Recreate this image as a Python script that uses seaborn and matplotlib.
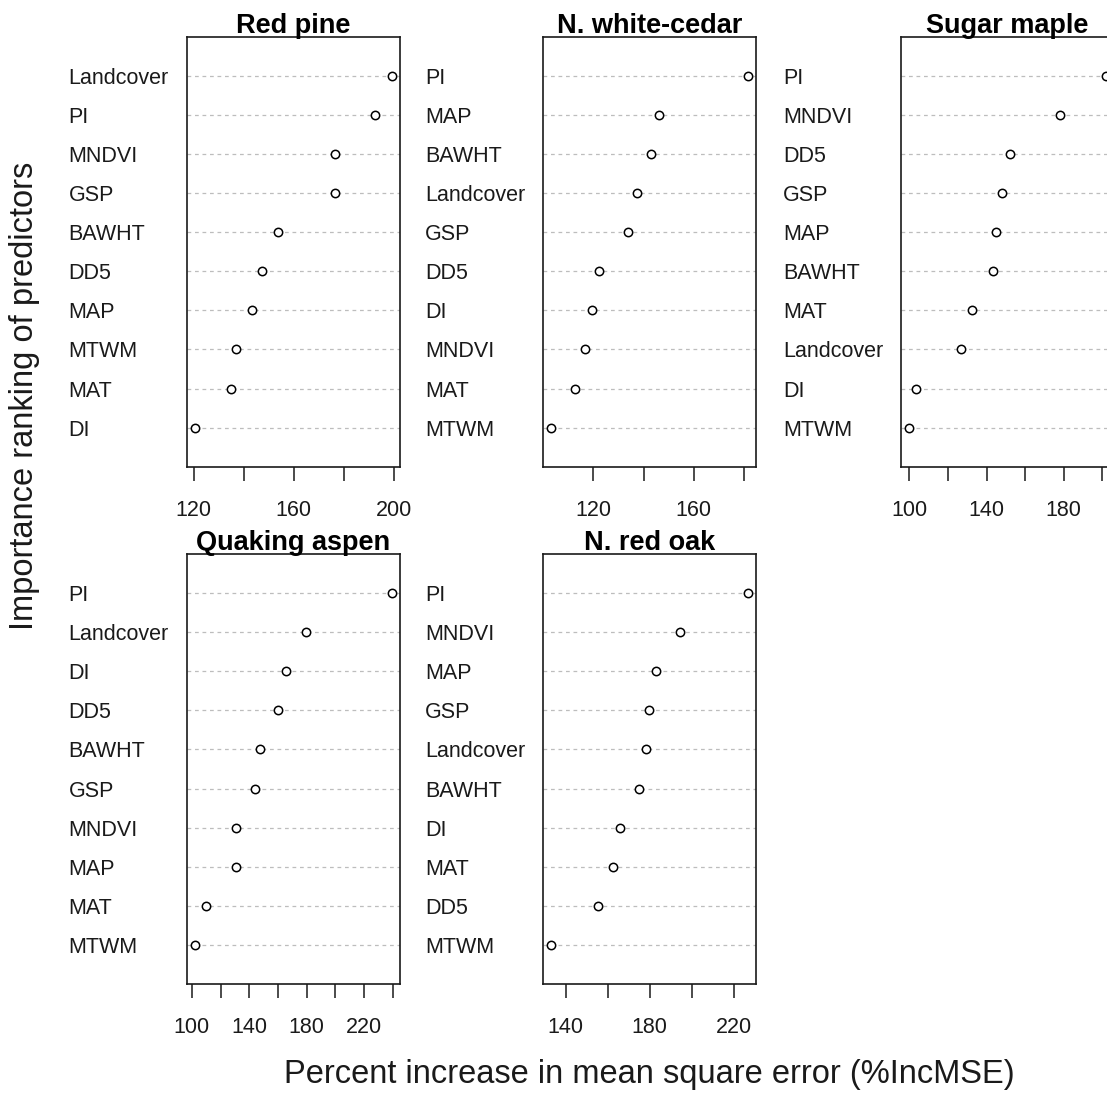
import matplotlib
matplotlib.use("Agg")
import matplotlib.pyplot as plt
import seaborn as sns
import pandas as pd

# Variable importance (%IncMSE) per species, predictors listed from highest to lowest
species = ["Red pine", "N. white-cedar", "Sugar maple", "Quaking aspen", "N. red oak"]

red_pine_vars = ["Landcover", "PI", "MNDVI", "GSP", "BAWHT", "DD5", "MAP", "MTWM", "MAT", "DI"]
red_pine_vals = [199.3, 192.4, 176.5, 176.5, 153.6, 147.3, 143.2, 137.0, 134.9, 120.4]

cedar_vars = ["PI", "MAP", "BAWHT", "Landcover", "GSP", "DD5", "DI", "MNDVI", "MAT", "MTWM"]
cedar_vals = [181.7, 146.3, 143.0, 137.3, 133.9, 122.4, 119.5, 116.9, 112.7, 103.3]

maple_vars = ["PI", "MNDVI", "DD5", "GSP", "MAP", "BAWHT", "MAT", "Landcover", "DI", "MTWM"]
maple_vals = [201.9, 177.8, 152.4, 147.8, 145.0, 143.5, 132.4, 126.8, 103.5, 99.8]

aspen_vars = ["PI", "Landcover", "DI", "DD5", "BAWHT", "GSP", "MNDVI", "MAP", "MAT", "MTWM"]
aspen_vals = [239.3, 179.2, 165.9, 159.9, 147.6, 144.1, 130.6, 130.6, 110.0, 101.9]

oak_vars = ["PI", "MNDVI", "MAP", "GSP", "Landcover", "BAWHT", "DI", "MAT", "DD5", "MTWM"]
oak_vals = [226.9, 194.4, 183.0, 179.7, 178.1, 174.7, 165.7, 162.4, 155.4, 133.2]

# x-axis ticks and the labels printed under them
red_pine_ticks = [120, 140, 160, 180, 200]
red_pine_ticklabels = ["120", "", "160", "", "200"]
cedar_ticks = [120, 140, 160, 180]
cedar_ticklabels = ["120", "", "160", ""]
maple_ticks = [100, 120, 140, 160, 180, 200]
maple_ticklabels = ["100", "", "140", "", "180", ""]
aspen_ticks = [100, 120, 140, 160, 180, 200, 220, 240]
aspen_ticklabels = ["100", "", "140", "", "180", "", "220", ""]
oak_ticks = [140, 160, 180, 200, 220]
oak_ticklabels = ["140", "", "180", "", "220"]

panels = [
    (species[0], red_pine_vars, red_pine_vals, red_pine_ticks, red_pine_ticklabels),
    (species[1], cedar_vars, cedar_vals, cedar_ticks, cedar_ticklabels),
    (species[2], maple_vars, maple_vals, maple_ticks, maple_ticklabels),
    (species[3], aspen_vars, aspen_vals, aspen_ticks, aspen_ticklabels),
    (species[4], oak_vars, oak_vals, oak_ticks, oak_ticklabels),
]

sns.set_style("white")
plt.rcParams["font.family"] = ["Liberation Sans", "DejaVu Sans"]

W, H = 1107, 1093
fig = plt.figure(figsize=(W / 100, H / 100), dpi=100)

# panel boxes in pixels: (left, top, width, height)
col_left = [186.7, 543.3, 901.0]
row_top = [36.7, 554.0]
box_w, box_h = 213.0, 430.0
slots = [(0, 0), (0, 1), (0, 2), (1, 0), (1, 1)]

dark = "#1a1a1a"
for (title, names, vals, ticks, ticklabels), (r, c) in zip(panels, slots):
    left, top = col_left[c], row_top[r]
    ax = fig.add_axes([left / W, 1 - (top + box_h) / H, box_w / W, box_h / H])
    n = len(names)
    df = pd.DataFrame({"var": names, "val": vals, "pos": list(range(n, 0, -1))})

    sns.scatterplot(data=df, x="val", y="pos", ax=ax, marker="o", s=36,
                    facecolor="white", edgecolor="black", linewidth=1.1, zorder=3)

    lo, hi = min(vals), max(vals)
    pad = 0.04 * (hi - lo)
    ax.set_xlim(lo - pad, hi + pad)
    ax.set_ylim(0, n + 1)

    ax.set_yticks(df["pos"])
    ax.set_yticklabels(df["var"])
    ax.yaxis.grid(True, color="#bdbdbd", linestyle=(0, (3.0, 3.0)), linewidth=0.9)
    ax.xaxis.grid(False)
    ax.set_axisbelow(True)
    ax.tick_params(axis="y", length=0, pad=85, labelsize=15.5, labelcolor=dark)
    for lbl in ax.get_yticklabels():
        lbl.set_horizontalalignment("left")

    ax.set_xticks(ticks)
    ax.set_xticklabels(ticklabels)
    ax.tick_params(axis="x", direction="out", length=10, width=1.1, color=dark,
                   pad=14, labelsize=15.5, labelcolor=dark, bottom=True)

    for sp in ax.spines.values():
        sp.set_visible(True)
        sp.set_color(dark)
        sp.set_linewidth(1.2)

    ax.set_xlabel("")
    ax.set_ylabel("")
    ax.set_title(title, fontsize=19.5, fontweight="bold", pad=3, color="black")

fig.text(25 / W, 1 - 396 / H, "Importance ranking of predictors", rotation=90,
         ha="center", va="center", fontsize=23.5, color=dark)
fig.text(649 / W, 1 - 1075 / H, "Percent increase in mean square error (%IncMSE)",
         ha="center", va="center", fontsize=23.5, color=dark)

fig.savefig("out.png", dpi=100)
